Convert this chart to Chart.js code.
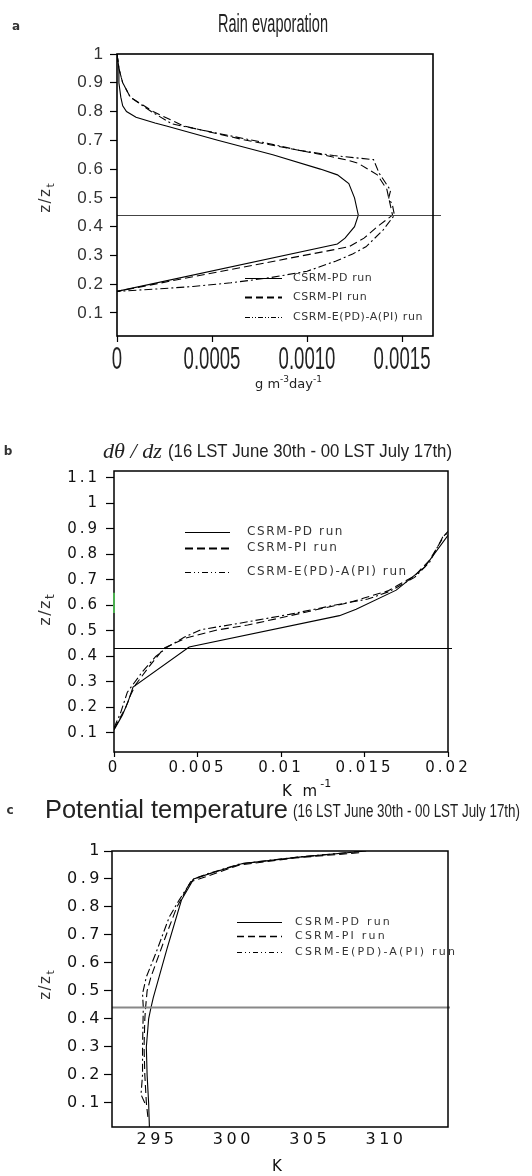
<!DOCTYPE html>
<html>
<head>
<meta charset="utf-8">
<script src="https://cdn.jsdelivr.net/npm/chart.js@4.4.1/dist/chart.umd.min.js"></script>
<style>
  html, body { margin: 0; padding: 0; background: #fff; }
  body { width: 532px; height: 1176px; position: relative; overflow: hidden; }
  canvas { position: absolute; left: 0; top: 0; }
</style>
</head>
<body>
<canvas id="rain-chart" width="532" height="1176"></canvas>
<canvas id="gradient-chart" width="532" height="1176"></canvas>
<canvas id="theta-chart" width="532" height="1176"></canvas>
<script>
const seriesNames = ["CSRM-PD run", "CSRM-PI run", "CSRM-E(PD)-A(PI) run"];

// a) rain evaporation, g m-3 day-1 against z/zt
const rainZ_PD = [1.0, 0.95, 0.9, 0.85, 0.82, 0.8, 0.78, 0.76, 0.75, 0.7, 0.65, 0.6, 0.58, 0.55, 0.5, 0.44, 0.4, 0.36, 0.34, 0.175];
const rainPD = [0, 0.00001, 0.00001, 0.00002, 0.00003, 0.00005, 0.0001, 0.0002, 0.00026, 0.00053, 0.00082, 0.00107, 0.00116, 0.00122, 0.00125, 0.00127, 0.00125, 0.0012, 0.00116, 0];
const rainZ_PI = [1.0, 0.95, 0.9, 0.85, 0.8, 0.75, 0.7, 0.65, 0.63, 0.62, 0.58, 0.53, 0.5, 0.44, 0.4, 0.36, 0.33, 0.175];
const rainPI = [0, 0.00001, 0.00003, 0.00007, 0.00019, 0.00035, 0.00068, 0.00108, 0.00122, 0.00127, 0.00137, 0.00142, 0.00143, 0.00145, 0.00137, 0.0013, 0.00122, 0];
const rainZ_E = [1.0, 0.95, 0.9, 0.85, 0.8, 0.757, 0.727, 0.69, 0.665, 0.647, 0.633, 0.585, 0.526, 0.5, 0.474, 0.44, 0.388, 0.33, 0.305, 0.28, 0.245, 0.222, 0.205, 0.192, 0.183, 0.175];
const rainE = [0, 0.00001, 0.00003, 0.00007, 0.00018, 0.00029, 0.00051, 0.00079, 0.00096, 0.00114, 0.00135, 0.00138, 0.00144, 0.00143, 0.00145, 0.00146, 0.0014, 0.00131, 0.00124, 0.00115, 0.001, 0.0008, 0.0006, 0.0004, 0.0002, 0];
const rainXTicks = [0, 0.0005, 0.001, 0.0015];
const rainXLabels = ["0", "0.0005", "0.0010", "0.0015"];
const rainYTicks = [0.1, 0.2, 0.3, 0.4, 0.5, 0.6, 0.7, 0.8, 0.9, 1];
const rainYLabels = ["0.1", "0.2", "0.3", "0.4", "0.5", "0.6", "0.7", "0.8", "0.9", "1"];
const rainLevel = 0.44;

// b) d(theta)/dz, K m-1
const gradZ_PD = [0.112, 0.17, 0.222, 0.28, 0.437, 0.56, 0.585, 0.66, 0.75, 0.875];
const gradPD = [0, 0.0005, 0.00084, 0.00114, 0.0045, 0.0135, 0.0145, 0.0169, 0.0186, 0.02];
const gradZ_PI = [0.115, 0.2, 0.25, 0.29, 0.36, 0.433, 0.472, 0.504, 0.523, 0.559, 0.586, 0.61, 0.657, 0.716, 0.778, 0.876, 0.89];
const gradPI = [0, 0.0007, 0.001, 0.0013, 0.0021, 0.003, 0.0043, 0.0062, 0.008, 0.0105, 0.0123, 0.014, 0.0164, 0.018, 0.0189, 0.0198, 0.02];
const gradZ_E = [0.12, 0.18, 0.26, 0.34, 0.4, 0.437, 0.475, 0.505, 0.53, 0.565, 0.605, 0.625, 0.655, 0.71, 0.77, 0.87, 0.885];
const gradE = [0, 0.0004, 0.0008, 0.0017, 0.0025, 0.0032, 0.0042, 0.0052, 0.0075, 0.0105, 0.0135, 0.0152, 0.0165, 0.018, 0.0189, 0.0197, 0.02];
const gradXTicks = [0, 0.005, 0.01, 0.015, 0.02];
const gradXLabels = ["0", "0.005", "0.01", "0.015", "0.02"];
const gradYTicks = [0.1, 0.2, 0.3, 0.4, 0.5, 0.6, 0.7, 0.8, 0.9, 1, 1.1];
const gradYLabels = ["0.1", "0.2", "0.3", "0.4", "0.5", "0.6", "0.7", "0.8", "0.9", "1", "1.1"];
const gradLevel = 0.433;

// c) potential temperature, K
const thetaZ_PD = [0.014, 0.1, 0.2, 0.3, 0.4, 0.44, 0.475, 0.65, 0.825, 0.9, 0.92, 0.955, 0.978, 1.0];
const thetaPD = [294.5, 294.45, 294.35, 294.3, 294.45, 294.6, 294.75, 295.65, 296.6, 297.4, 298.5, 300.6, 304.3, 308.7];
const thetaZ_PI = [0.05, 0.1, 0.2, 0.3, 0.4, 0.44, 0.5, 0.55, 0.61, 0.7, 0.8, 0.89, 0.91, 0.95, 0.975, 0.995];
const thetaPI = [294.4, 294.3, 294.2, 294.15, 294.2, 294.25, 294.35, 294.6, 295.0, 295.6, 296.3, 297.2, 298.3, 300.4, 304.0, 308.5];
const thetaZ_E = [0.1, 0.13, 0.2, 0.3, 0.44, 0.49, 0.55, 0.636, 0.764, 0.825, 0.88, 0.9, 0.92, 0.955, 0.978, 1.0];
const thetaE = [294.2, 293.95, 294.05, 294.05, 294.1, 294.05, 294.3, 294.93, 295.8, 296.45, 297.1, 297.4, 298.4, 300.5, 304.2, 308.6];
const thetaXTicks = [295, 300, 305, 310];
const thetaXLabels = ["295", "300", "305", "310"];
const thetaYTicks = [0.1, 0.2, 0.3, 0.4, 0.5, 0.6, 0.7, 0.8, 0.9, 1];
const thetaYLabels = ["0.1", "0.2", "0.3", "0.4", "0.5", "0.6", "0.7", "0.8", "0.9", "1"];
const thetaLevel = 0.443;

const W = 532, H = 1176, XH = 40;
const SANS = '"DejaVu Sans", sans-serif';
const DASH = [8, 4];
const DASHDOT = [8, 3, 2, 3];

function profile(label, xs, zs, dash) {
  return {
    label: label,
    data: xs.map((x, i) => ({ x: x, y: zs[i] })),
    showLine: true,
    borderColor: "#000",
    borderWidth: 1.1,
    borderDash: dash,
    pointRadius: 0,
    pointHoverRadius: 0,
  };
}

// plain text, optionally squeezed horizontally
function txt(ctx, s, x, y, o) {
  ctx.save();
  ctx.font = o.font;
  ctx.fillStyle = o.color || "#222";
  ctx.textAlign = o.align || "left";
  ctx.textBaseline = o.baseline || "middle";
  ctx.letterSpacing = (o.ls || 0) + "px";
  ctx.translate(x, y);
  let sx = o.sx || 1;
  if (o.width) sx = o.width / ctx.measureText(s).width;
  ctx.scale(sx, 1);
  ctx.fillText(s, 0, 0);
  ctx.restore();
}

// text made of runs (super/subscripts), baseline at y
function runs(ctx, parts, x, y, o) {
  ctx.save();
  ctx.translate(x, y);
  if (o.rot) ctx.rotate(o.rot);
  ctx.fillStyle = o.color || "#222";
  ctx.textBaseline = "alphabetic";
  ctx.textAlign = "left";
  let total = 0;
  parts.forEach((p) => {
    ctx.font = p.font;
    ctx.letterSpacing = (p.ls || 0) + "px";
    p.w = ctx.measureText(p.s).width;
    total += p.w;
  });
  let cx = o.align === "center" ? -total / 2 : 0;
  parts.forEach((p) => {
    ctx.font = p.font;
    ctx.letterSpacing = (p.ls || 0) + "px";
    ctx.fillText(p.s, cx, p.dy || 0);
    cx += p.w;
  });
  ctx.restore();
}

function frame(c, lw) {
  const a = c.chartArea, ctx = c.ctx;
  ctx.save();
  ctx.strokeStyle = "#000";
  ctx.lineWidth = lw;
  ctx.strokeRect(a.left, a.top, a.right - a.left, a.bottom - a.top);
  ctx.restore();
}

function level(c, z, ext, color, lw) {
  const a = c.chartArea, ctx = c.ctx;
  const y = Math.round(c.scales.y.getPixelForValue(z)) + 0.5;
  ctx.save();
  ctx.strokeStyle = color;
  ctx.lineWidth = lw;
  ctx.beginPath();
  ctx.moveTo(a.left, y);
  ctx.lineTo(a.right + ext, y);
  ctx.stroke();
  ctx.restore();
}

function legend(c, lg) {
  const ctx = c.ctx;
  c.data.datasets.forEach((ds, i) => {
    ctx.save();
    ctx.strokeStyle = "#000";
    ctx.lineWidth = lg.widths[i];
    ctx.setLineDash(lg.dashes[i]);
    ctx.beginPath();
    ctx.moveTo(lg.x0, lg.ys[i] + 0.5);
    ctx.lineTo(lg.x1, lg.ys[i] + 0.5);
    ctx.stroke();
    ctx.restore();
    txt(ctx, ds.label, lg.xt, lg.ys[i], { font: lg.font, ls: lg.ls, color: "#333" });
  });
}

function zTitle(ctx, x, y, size) {
  runs(ctx, [
    { s: "z/z", font: size + "px " + SANS, ls: 1.5 },
    { s: "t", font: Math.round(size * 0.72) + "px " + SANS, dy: 4 },
  ], x, y, { rot: -Math.PI / 2, align: "center", color: "#333" });
}

function makePanel(id, p) {
  const ctx = document.getElementById(id).getContext("2d");
  return new Chart(ctx, {
    type: "scatter",
    data: { datasets: p.datasets },
    options: {
      responsive: false,
      animation: false,
      devicePixelRatio: 1,
      events: [],
      layout: {
        padding: { left: 0, top: p.area.top, right: W - p.area.right, bottom: H - p.area.bottom - XH },
      },
      plugins: { legend: { display: false }, tooltip: { enabled: false } },
      scales: {
        x: {
          type: "linear",
          min: p.x.min,
          max: p.x.max,
          afterFit: (s) => { s.height = XH; },
          afterBuildTicks: (s) => { s.ticks = p.x.ticks.map((v) => ({ value: v })); },
          grid: { drawOnChartArea: false, drawTicks: p.x.tickLen > 0, tickLength: p.x.tickLen, tickColor: "#000", tickWidth: 1.2 },
          border: { display: false },
          ticks: {
            display: p.x.showLabels,
            autoSkip: false,
            maxRotation: 0,
            padding: p.x.pad,
            color: p.tickColor,
            font: p.tickFont,
            callback: (v, i) => p.x.labels[i],
          },
        },
        y: {
          type: "linear",
          min: p.y.min,
          max: p.y.max,
          afterFit: (s) => { s.width = p.area.left; },
          afterBuildTicks: (s) => { s.ticks = p.y.ticks.map((v) => ({ value: v })); },
          grid: { drawOnChartArea: false, tickLength: p.y.tickLen, tickColor: "#000", tickWidth: 1.2 },
          border: { display: false },
          ticks: {
            padding: p.y.pad,
            color: p.tickColor,
            font: p.y.font || p.tickFont,
            callback: (v, i) => p.y.labels[i],
          },
        },
      },
    },
    plugins: [{
      id: "panel-" + id,
      beforeDraw: (c) => { c.ctx.letterSpacing = p.ls + "px"; },
      afterDraw: (c) => { c.ctx.letterSpacing = "0px"; p.draw(c, c.ctx); },
    }],
  });
}

// Panel a
makePanel("rain-chart", {
  area: { left: 117, top: 54, right: 433, bottom: 336 },
  datasets: [
    profile(seriesNames[0], rainPD, rainZ_PD, []),
    profile(seriesNames[1], rainPI, rainZ_PI, DASH),
    profile(seriesNames[2], rainE, rainZ_E, DASHDOT),
  ],
  x: { min: 0, max: 0.001663, ticks: rainXTicks, labels: rainXLabels, tickLen: 6, pad: 4, showLabels: false },
  y: { min: 0.02, max: 1.0, ticks: rainYTicks, labels: rainYLabels, tickLen: 7, pad: 6, font: { family: '"Liberation Sans", sans-serif', size: 17 } },
  tickColor: "#333",
  tickFont: { family: '"Liberation Sans", sans-serif', size: 17 },
  ls: 1,
  draw: (c, ctx) => {
    level(c, rainLevel, 8, "#444", 1);
    frame(c, 1.6);
    const sx = c.scales.x;
    sx.ticks.forEach((t, i) => {
      txt(ctx, rainXLabels[i], sx.getPixelForValue(t.value), 360, {
        font: '31px "Liberation Sans", sans-serif', sx: 0.6, align: "center", color: "#222",
      });
    });
    legend(c, {
      x0: 245, x1: 282, xt: 293, ys: [278, 297, 317],
      widths: [1, 2, 1], dashes: [[], [7, 4], [5, 2, 1, 2, 1, 2]],
      font: "11px " + SANS, ls: 0.6,
    });
    txt(ctx, "a", 16, 27, { font: "bold 12px " + SANS, align: "center", color: "#333" });
    txt(ctx, "Rain evaporation", 273, 25, { font: '25px "Liberation Sans", sans-serif', width: 110, align: "center", color: "#222" });
    runs(ctx, [
      { s: "g m", font: "13px " + SANS },
      { s: "-3", font: "9px " + SANS, dy: -6 },
      { s: "day", font: "13px " + SANS },
      { s: "-1", font: "9px " + SANS, dy: -6 },
    ], 255, 388, { color: "#222" });
    zTitle(ctx, 50, 198, 15);
  },
});

// Panel b
makePanel("gradient-chart", {
  area: { left: 114, top: 471, right: 448, bottom: 752 },
  datasets: [
    profile(seriesNames[0], gradPD, gradZ_PD, []),
    profile(seriesNames[1], gradPI, gradZ_PI, DASH),
    profile(seriesNames[2], gradE, gradZ_E, DASHDOT),
  ],
  x: { min: 0, max: 0.02, ticks: gradXTicks, labels: gradXLabels, tickLen: 5, pad: 2, showLabels: true },
  y: { min: 0.0255, max: 1.127, ticks: gradYTicks, labels: gradYLabels, tickLen: 8, pad: 6 },
  tickColor: "#111",
  tickFont: { family: SANS, size: 15 },
  ls: 3,
  draw: (c, ctx) => {
    level(c, gradLevel, 4, "#000", 1);
    frame(c, 1.5);
    const y = c.scales.y, a = c.chartArea;
    ctx.save();
    ctx.strokeStyle = "#4caf50";
    ctx.lineWidth = 2;
    ctx.beginPath();
    ctx.moveTo(a.left, y.getPixelForValue(0.65));
    ctx.lineTo(a.left, y.getPixelForValue(0.57));
    ctx.stroke();
    ctx.restore();
    legend(c, {
      x0: 185, x1: 230, xt: 247, ys: [532, 548, 572],
      widths: [1, 2, 1], dashes: [[], [8, 4], [6, 3, 1, 3, 1, 3]],
      font: "12px " + SANS, ls: 1.6,
    });
    txt(ctx, "b", 8, 452, { font: "bold 12px " + SANS, align: "center", color: "#333" });
    txt(ctx, "d\u03B8 / dz", 103, 452, { font: 'italic 21px "Liberation Serif", serif', width: 59, color: "#222" });
    txt(ctx, "(16 LST June 30th - 00 LST July 17th)", 168, 452, { font: '19px "Liberation Sans", sans-serif', width: 284, color: "#222" });
    runs(ctx, [
      { s: "K m", font: "15px " + SANS, ls: 3 },
      { s: "-1", font: "11px " + SANS, dy: -9 },
    ], 282, 796, { color: "#111" });
    zTitle(ctx, 50, 610, 16);
  },
});

// Panel c
makePanel("theta-chart", {
  area: { left: 112, top: 851, right: 448, bottom: 1127 },
  datasets: [
    profile(seriesNames[0], thetaPD, thetaZ_PD, []),
    profile(seriesNames[1], thetaPI, thetaZ_PI, DASH),
    profile(seriesNames[2], thetaE, thetaZ_E, DASHDOT),
  ],
  x: { min: 292.05, max: 314.06, ticks: thetaXTicks, labels: thetaXLabels, tickLen: 0, pad: 3, showLabels: true },
  y: { min: 0.014, max: 1.0, ticks: thetaYTicks, labels: thetaYLabels, tickLen: 8, pad: 1 },
  tickColor: "#111",
  tickFont: { family: SANS, size: 16 },
  ls: 3.5,
  draw: (c, ctx) => {
    level(c, thetaLevel, 2, "#888", 2);
    frame(c, 1.5);
    legend(c, {
      x0: 237, x1: 282, xt: 295, ys: [922, 936, 952],
      widths: [1, 1.6, 1], dashes: [[], [7, 4], [5, 3, 1, 3, 1, 3]],
      font: "11px " + SANS, ls: 2.2,
    });
    txt(ctx, "c", 10, 811, { font: "bold 12px " + SANS, align: "center", color: "#333" });
    txt(ctx, "Potential temperature", 45, 811, { font: '26px "Liberation Sans", sans-serif', width: 243, color: "#222" });
    txt(ctx, "(16 LST June 30th - 00 LST July 17th)", 293, 812, { font: '18px "Liberation Sans", sans-serif', width: 227, color: "#222" });
    txt(ctx, "K", 277, 1167, { font: "15px " + SANS, align: "center", color: "#111" });
    zTitle(ctx, 50, 985, 15);
  },
});
</script>
</body>
</html>
